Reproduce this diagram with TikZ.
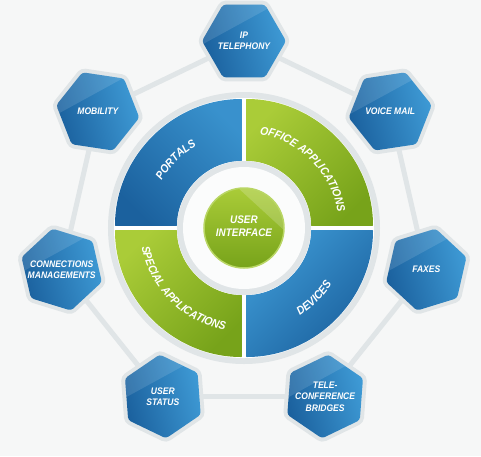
\documentclass[tikz,border=0pt]{standalone}
\usepackage{fontspec}
\setmainfont{Liberation Sans}
\newfontfamily\condfont[FakeStretch=0.9]{Liberation Sans}
\usetikzlibrary{decorations.text}
\definecolor{bgc}{HTML}{F6F7F7}
\definecolor{halo}{HTML}{E0E5E7}
\definecolor{blueD}{HTML}{1B619E}
\definecolor{blueL}{HTML}{3E9AD5}
\definecolor{greenD}{HTML}{77A31A}
\definecolor{greenL}{HTML}{AACC38}
\definecolor{greenEdge}{HTML}{B9D665}
\newcommand\ringfont{\condfont\bfseries\itshape\fontsize{11.5}{13}\selectfont}
\newcommand\centerfont{\condfont\bfseries\itshape\fontsize{11}{13}\selectfont}
\newcommand\hexfont{\condfont\bfseries\itshape\fontsize{9.5}{11.5}\selectfont}
\newcommand\hexshape[1]{(#1:42) -- ({#1+60}:42) -- ({#1+120}:42) -- ({#1+180}:42) -- ({#1+240}:42) -- ({#1+300}:42) -- cycle}
\begin{document}
\begin{tikzpicture}[x=1pt,y=1pt,
  conn/.style={draw=halo, line width=5},
  hexlabel/.style={text=white, align=center, inner sep=0, font=\hexfont},
  centerlabel/.style={text=white, align=center, inner sep=0, font=\centerfont},
  segment/.style={rounded corners=3},
  ringtext/.style={decorate, decoration={text along path, text color=white, text align=center, text={|\ringfont|#1}}}]
\useasboundingbox[fill=bgc] (-244,-228) rectangle (237,228);
% hexagon centres
\foreach \k/\n in {0/ip,1/mob,2/con,3/ust,4/tel,5/fax,6/vm}
  \coordinate (\n) at ({90+\k*360/7}:187);
% connectors
\draw[conn] (ip) -- (mob);
\draw[conn] (mob) -- (con);
\draw[conn] (con) -- (ust);
\draw[conn] (ust) -- (tel);
\draw[conn] (tel) -- (fax);
\draw[conn] (fax) -- (vm);
\draw[conn] (vm) -- (ip);
% hexagons
\foreach \k/\n/\t in {0/ip/{IP\\TELEPHONY},1/mob/{MOBILITY},2/con/{CONNECTIONS\\MANAGEMENTS},3/ust/{USER\\STATUS},4/tel/{TELE-\\CONFERENCE\\BRIDGES},5/fax/{FAXES},6/vm/{VOICE MAIL}}{
  \pgfmathsetmacro\r{\k*360/7}
  \begin{scope}[shift={(\n)}]
    \draw[halo, line width=8, rounded corners=3] \hexshape{\r};
    \shade[rounded corners=3, top color=blueL, bottom color=blueD, shading angle=-75] \hexshape{\r};
    \begin{scope}
      \clip[rounded corners=3] \hexshape{\r};
      \fill[white, opacity=.12] (-50,-8) -- (45,44) -- (-50,44) -- cycle;
    \end{scope}
  \end{scope}
  \node[hexlabel] (\n-l) at (\n) {\t};
}
% ring
\fill[halo] (0,0) circle (136);
\fill[white] (0,0) circle (130);
\shade[segment, top color=blueL!85!blueD, bottom color=blueD, shading angle=-45]
  (180:67) arc[start angle=180, end angle=90, radius=67] -- (90:129) arc[start angle=90, end angle=180, radius=129] -- cycle;
\shade[segment, top color=greenL, bottom color=greenD, shading angle=45]
  (90:67) arc[start angle=90, end angle=0, radius=67] -- (0:129) arc[start angle=0, end angle=90, radius=129] -- cycle;
\shade[segment, top color=blueL, bottom color=blueD, shading angle=45]
  (0:67) arc[start angle=0, end angle=-90, radius=67] -- (-90:129) arc[start angle=-90, end angle=0, radius=129] -- cycle;
\shade[segment, top color=greenL, bottom color=greenD, shading angle=45]
  (270:67) arc[start angle=270, end angle=180, radius=67] -- (180:129) arc[start angle=180, end angle=270, radius=129] -- cycle;
\draw[white, line width=4] (-130,0) -- (130,0) (0,-130) -- (0,130);
\fill[halo] (0,0) circle (67);
\fill[white!60!bgc] (0,0) circle (61);
% ring texts
\path[ringtext=PORTALS] (180:95) arc[start angle=180, end angle=90, radius=95];
\path[ringtext=OFFICE APPLICATIONS] (90:95) arc[start angle=90, end angle=0, radius=95];
\path[ringtext=SPECIAL APPLICATIONS] (180:104) arc[start angle=180, end angle=270, radius=104];
\path[ringtext=DEVICES] (270:104) arc[start angle=270, end angle=360, radius=104];
% centre
\shade[top color=greenL, bottom color=greenD] (0,0) circle (40);
\begin{scope}
  \clip (0,0) circle (40);
  \fill[white, opacity=.18] (-8,42) -- (42,-4) -- (42,42) -- cycle;
\end{scope}
\draw[greenEdge, line width=1.5] (0,0) circle (40);
\node[centerlabel] (ui) at (0,2) {USER\\INTERFACE};
\end{tikzpicture}
\end{document}
